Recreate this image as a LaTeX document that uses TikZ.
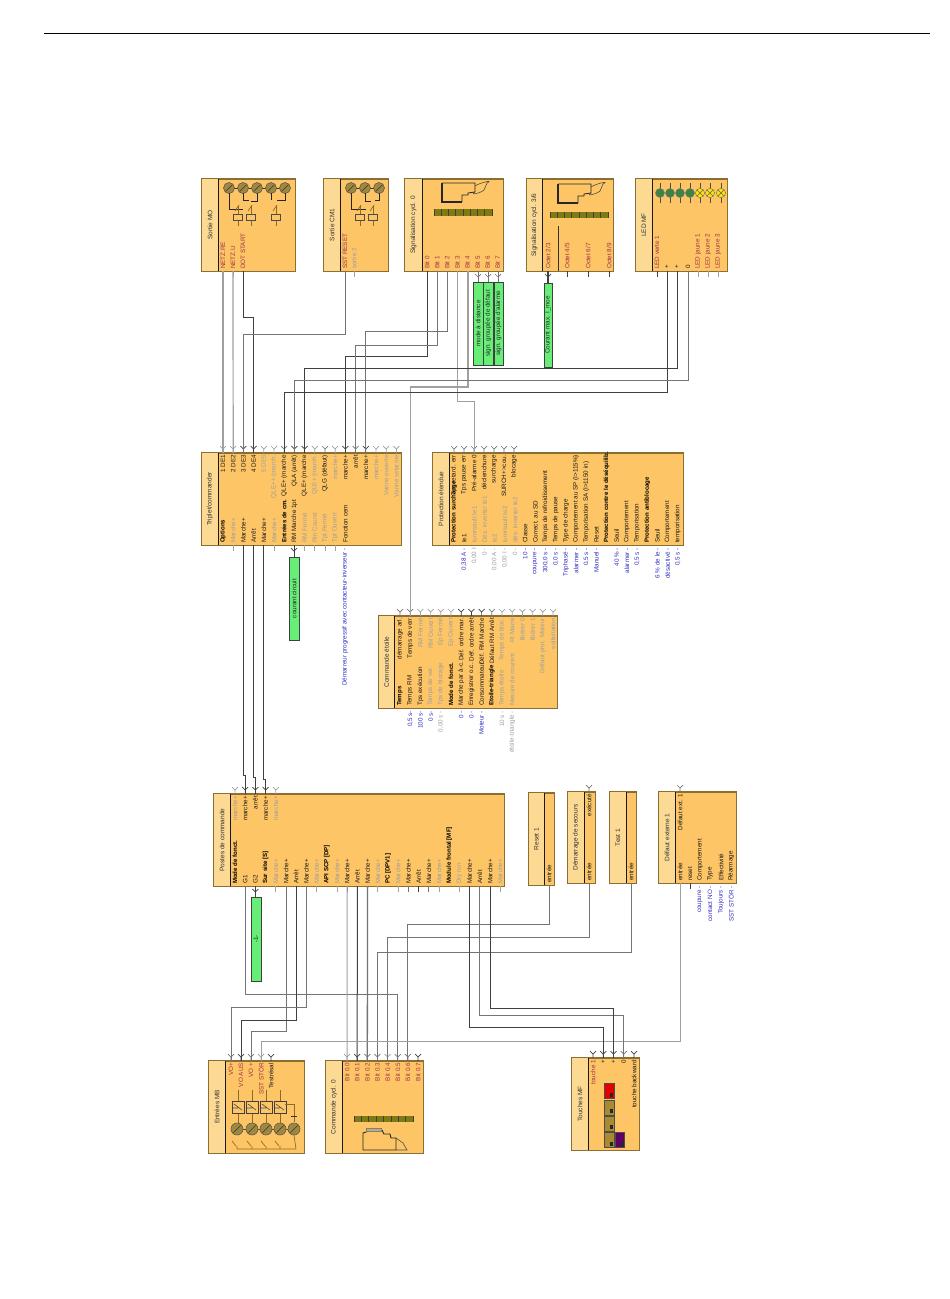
\documentclass[tikz,border=0pt]{standalone}
\usepackage{fontspec}
\setmainfont{Liberation Sans}
\definecolor{bodyc}{HTML}{FDC566}
\definecolor{titlec}{HTML}{FDDA94}
\definecolor{edgec}{HTML}{8C6E32}
\definecolor{greenc}{HTML}{66EE77}
\definecolor{oliv}{HTML}{A88A30}
\definecolor{barc}{HTML}{7F7A12}
\definecolor{redl}{HTML}{A03048}
\definecolor{bluel}{HTML}{3030C0}
\definecolor{wd}{HTML}{404040}
\definecolor{wm}{HTML}{747474}
\definecolor{wl}{HTML}{A0A0A0}
\tikzset{
  x=1pt,y=-1pt,
  blockbody/.style={draw=edgec,fill=bodyc,line width=1pt,inner sep=0pt},
  titleband/.style={fill=titlec},
  divider/.style={draw=black!90,line width=1pt},
  titletext/.style={font=\fontsize{6.5}{7}\selectfont,text=black!80,rotate=90,inner sep=0pt},
  lbl/.style={font=\fontsize{6.3}{7}\selectfont,inner sep=0pt,rotate=90},
  lnm/.style={text=black!90},
  lhd/.style={text=black,font=\fontsize{6.1}{7}\selectfont\bfseries},
  lgr/.style={text=black!38},
  lrd/.style={text=redl},
  lbu/.style={text=bluel},
  wire/.style={line width=1pt},
  wdark/.style={wire,draw=wd},
  wmid/.style={wire,draw=wm},
  wlight/.style={wire,draw=wl},
  gbox/.style={draw=black!75,fill=greenc,line width=1pt,inner sep=0pt},
  gtext/.style={font=\fontsize{6.3}{7}\selectfont,text=black!85,rotate=90,inner sep=0pt},
  iconl/.style={draw=oliv!80!black,line width=0.7pt}
}
\newcount\lblc
\newcommand\labw[4]{\global\advance\lblc by 1\tikzset{cur/.style/.expanded={#1}}%
  \node[lbl,cur,anchor=west] (L\the\lblc) at (#2,#3) {#4};}
\newcommand\labe[4]{\global\advance\lblc by 1\tikzset{cur/.style/.expanded={#1}}%
  \node[lbl,cur,anchor=east] (L\the\lblc) at (#2,#3) {#4};}
\newcommand\blockn[7]{%
  \node[blockbody,minimum width={(#4-#2)*1pt},minimum height={(#5-#3)*1pt}] (#1) at ({(#2+#4)/2},{(#3+#5)/2}) {};
  \fill[titleband] (#2,#3) rectangle (#6,#5);
  \draw[draw=edgec,line width=1pt] (#1.north west) rectangle (#1.south east);
  \draw[divider] (#6,#3) -- (#6,#5);
  \node[titletext] (#1t) at ({(#2+#6)/2},{(#3+#5)/2}) {#7};}
% top Y port
\newcommand\pty[4]{\coordinate (#1) at (#2,#3);
  \draw[wire,draw=#4,line width=0.7pt] (#1) -- ++(0,-4) ++(-3,-3) -- ++(3,3) -- ++(3,-3);}
% bottom stub
\newcommand\pts[4]{\coordinate (#1) at (#2,#3);
  \draw[wire,draw=#4,line width=0.9pt] (#1) -- ++(0,6);}
% bottom port with Y to green box
\newcommand\ptg[4]{\coordinate (#1) at (#2,#3);
  \draw[wire,draw=#4,line width=0.7pt] (#1) ++(-3,3) -- ++(3,3) -- ++(3,-3);}
\newcommand\gb[6]{\node[gbox,minimum width={(#4-#2)*1pt},minimum height={(#5-#3)*1pt}] (#1) at ({(#2+#4)/2},{(#3+#5)/2}) {};
  \node[gtext] (#1t) at ({(#2+#4)/2},{(#3+#5)/2}) {#6};}
\newcommand\coil[3]{\fill[oliv] (#1,#2) circle (#3);
  \draw[black!65,line width=0.6pt] (#1,#2) circle (#3);
  \draw[black!75,line width=0.7pt] (#1,#2) ++(-#3*0.6,#3*0.6) -- ++(#3*1.2,-#3*1.2);
  \draw[black!50,line width=0.6pt] (#1,#2) ++(-#3*0.7,#3*0.1) -- ++(#3*0.8,-#3*0.8);
  \draw[black!50,line width=0.6pt] (#1,#2) ++(-#3*0.1,#3*0.7) -- ++(#3*0.8,-#3*0.8);}
\newcommand\relay[2]{\draw[iconl] (#1,{#2-11}) -- (#1,{#2+9});
  \draw[black!70,fill=bodyc,line width=0.6pt] ({#1-4.5},{#2-3}) rectangle ({#1+4.5},{#2+3});
  \draw[iconl] ({#1-3},{#2-6}) -- ({#1+1},{#2-12});}
\newcommand\ledbar[4]{% x0 y0 x1 y1
  \fill[barc] (#1,#2) rectangle (#3,#4);
  \foreach \k in {0,...,8}{\pgfmathsetmacro\xk{#1+(#3-#1)*\k/8}
    \draw[black!75,line width=0.7pt] (\xk,#2) -- (\xk,#4);}}
\newcommand\cpu[2]{% origin x y : CPU outline, drawn with arm to the right
  \draw[black!85,line width=0.8pt] (#1,#2) -- ++(33,0) -- ++(0,9) -- ++(-7,1) -- ++(0,2) -- ++(-6,0) -- ++(0,7);
  \draw[black!85,line width=1.1pt] (#1,#2) -- ++(0,19) -- ++(20,0);
  \draw[black!70,line width=0.6pt] (#1,#2) ++(33,3) .. controls ++(4,-3) and ++(8,-4) .. ++(12,-3) -- ++(-3,7) .. controls ++(-3,3) and ++(-6,4) .. ++(-9,2);}
\begin{document}
\begin{tikzpicture}
\useasboundingbox (0,0) rectangle (950,1299);
\fill[white] (0,0) rectangle (950,1299);
\coordinate (ruleL) at (44,33); \coordinate (ruleR) at (930,33);
\draw[black,line width=0.8pt] (ruleL) -- (ruleR);

% ---- blocks ----
\blockn{mo}{202}{179}{295}{271}{218}{Sortie MO}
\blockn{cm}{324}{179}{388}{271}{340}{Sortie CM1}
\blockn{sa}{405}{179}{503}{271}{422}{Signalisation cycl. 0}
\blockn{sb}{527}{179}{613}{271}{542}{Signalisation cycl. 3/6}
\blockn{led}{636}{179}{727}{271}{652}{LED MF}
\blockn{tr}{202}{453}{401}{545}{218}{Triplet/commander}
\blockn{pr}{433}{453}{683}{545}{449}{Protection étendue}
\blockn{ce}{379}{616}{557}{708}{394}{Commande étoile}
\blockn{po}{214}{794}{504}{886}{230}{Postes de commande}
\blockn{re}{529}{793}{554}{885}{544}{Reset 1}
\blockn{de}{568}{792}{595}{883}{584}{Démarrage de secours}
\blockn{te}{610}{792}{636}{883}{626}{Test 1}
\blockn{df}{659}{792}{736}{883}{675}{Défaut externe 1}
\blockn{en}{209}{1061}{304}{1153}{225}{Entrées MB}
\blockn{kc}{326}{1061}{423}{1153}{342}{Commande cycl. 0}
\blockn{tm}{572}{1058}{639}{1150}{588}{Touches MF}

% ---- icons: Sortie MO ----
\draw[black!80,line width=0.8pt] (229,188) -- (285,188);
\foreach \cx in {229,243,257,271,285}{\coil{\cx}{188}{5.5}}
\draw[black!85,line width=0.9pt] (229,193) -- (229,209) -- (243,209);
\draw[black!85,line width=0.9pt] (243,193) -- (243,200) -- (249,200);
\draw[black!85,line width=0.9pt] (257,193) -- (257,201) -- (251,201);
\draw[black!85,line width=0.9pt] (271,193) -- (271,200);
\draw[black!85,line width=0.9pt] (285,193) -- (285,200) -- (277,200);
\relay{238}{217}\relay{251}{217}\relay{276}{217}
% Sortie CM1
\draw[black!80,line width=0.8pt] (351,188) -- (379,188);
\foreach \cx in {351,365,379}{\coil{\cx}{188}{5.5}}
\draw[black!85,line width=0.9pt] (351,193) -- (351,209) -- (366,209);
\draw[black!85,line width=0.9pt] (365,193) -- (365,201) -- (371,201);
\draw[black!85,line width=0.9pt] (379,193) -- (379,200) -- (375,200);
\relay{360}{217}\relay{373}{217}
% Signalisation 0
\cpu{442}{183}
\ledbar{434}{209}{492}{216}
% Signalisation 3/6
\cpu{558}{184}
\ledbar{550}{212}{608}{218}
\draw[black!80,line width=0.9pt] (558,226) -- (558,271);
% LED MF
\foreach \cx in {660,670,680,690}{
  \draw[black!70,line width=0.7pt] (\cx,183) -- (\cx,203);
  \fill[green!35!black!75] (\cx,193) circle (4.6);
  \draw[black!50,line width=0.4pt] (\cx,193) circle (4.6);}
\foreach \cx in {700,710,721}{
  \draw[black!70,line width=0.7pt] (\cx,183) -- (\cx,203);
  \fill[yellow!85!orange] (\cx,193) circle (4.6);
  \draw[black!60,line width=0.4pt] (\cx,193) circle (4.6);
  \draw[black!60,line width=0.5pt] (\cx,193) ++(-3,-3) -- ++(6,6) ++(0,-6) -- ++(-6,6);}
% Entrées MB
\foreach \cx in {238,252,266,280}{
  \draw[iconl] (\cx,1090) -- (\cx,1130);
  \draw[black!75,fill=bodyc,line width=0.8pt] ({\cx-6},1101) rectangle ({\cx+6},1113);
  \draw[black!70,line width=0.6pt] ({\cx-4},1104) -- ({\cx+4},1110) ({\cx-5},1108) -- (\cx,1108);}
\draw[black!70,line width=0.7pt] (232,1129) -- (294,1129);
\foreach \cx in {237,252,266,280,294}{\coil{\cx}{1129}{6}}
\draw[iconl] (285,1104) -- (294,1104) -- (294,1122);
\draw[black!80,line width=1pt] (291,1116) -- (297,1116);
\draw[iconl] (237,1149) -- (296,1149) (296,1149) -- (294,1135);
\foreach \cx in {237,252,266,280}{\draw[iconl] (\cx,1149) -- (\cx,1146) ++(-1,0) -- ++(-4,-5);}
% Commande cycl. 0
\ledbar{354}{1116}{413}{1122}
\draw[black!85,line width=0.9pt] (363,1150) -- (396,1150) (363,1150) -- (363,1133) -- (372,1130) -- (382,1130) -- (384,1134) -- (390,1134) -- (391,1138) -- (396,1138) -- (396,1150);
\draw[black!50,fill=oliv!70,line width=0.4pt] (366,1128) rectangle (381,1131);
\draw[black!70,line width=0.6pt] (396,1138) -- (403,1143) -- (407,1150) -- (396,1150);
% Touches MF
\fill[red!90!black] (604,1083) rectangle (614,1098);
\foreach \yy in {1100,1116,1132}{\fill[oliv] (604,\yy) rectangle (614,{\yy+15});}
\fill[violet!75!black] (615,1132) rectangle (624,1147);
\draw[black!70,line width=0.5pt] (604,1083) rectangle (614,1098) (604,1100) rectangle (614,1115) (604,1116) rectangle (614,1131) (604,1132) rectangle (614,1147) (615,1132) rectangle (624,1147);
\foreach \yy/\xq in {1095/610,1111/610,1127/610,1144/610,1144/621}{\fill[black!85] (\xq,{\yy-2}) rectangle ({\xq+3},{\yy+1.5});}

% ---- labels Sorties ----
\labw{lrd}{223}{269}{NETZ.RE}\labw{lrd}{233}{269}{NETZ.U}\labw{lrd}{243}{269}{DOT START}
\labw{lrd}{345}{269}{SST RESET}\labw{lgr}{354}{269}{sortie 2}
\foreach \i in {0,...,7}{\pgfmathsetmacro\xx{427+10.1*\i}\labw{lrd}{\xx}{269}{Bit \i}}
\labw{lrd}{548}{269}{Octet 2/3}\labw{lrd}{567}{269}{Octet 4/5}\labw{lrd}{588}{269}{Octet 6/7}\labw{lrd}{609}{269}{Octet 8/9}
\labw{lrd}{657}{269}{LED verte 1}\labw{lnm}{667}{269}{+}\labw{lnm}{677}{269}{+}\labw{lnm}{688}{269}{0}
\labw{lrd}{698}{269}{LED jaune 1}\labw{lrd}{708}{269}{LED jaune 2}\labw{lrd}{718}{269}{LED jaune 3}

% ports of output blocks
\pts{MO0}{223}{271}{wl}\pts{MO1}{233}{271}{wl}\pts{MO2}{243}{271}{wd}
\pts{CM0}{345}{271}{wm}\pts{CM1}{354}{271}{wl}
\pts{S0}{427}{271}{wd}\pts{S1}{437}{271}{wm}\pts{S2}{447}{271}{wd}\pts{S3}{457}{271}{wl}\pts{S4}{468}{271}{wl}
\ptg{S5}{478}{271}{wm}\ptg{S6}{488}{271}{wm}\ptg{S7}{498}{271}{wm}
\ptg{O0}{548}{271}{wd}\pts{O1}{567}{271}{wd}\pts{O2}{588}{271}{wd}\pts{O3}{609}{271}{wd}
\pts{Q0}{657}{271}{wd}\pts{Q1}{667}{271}{wd}\pts{Q2}{677}{271}{wd}\pts{Q3}{688}{271}{wl}
\pts{Q4}{698}{271}{wl}\pts{Q5}{708}{271}{wl}\pts{Q6}{718}{271}{wl}

% green boxes
\gb{g5}{473}{282}{483}{365}{mode à distance}
\gb{g6}{483.5}{282}{493}{365}{sign. groupée de défaut}
\gb{g7}{494}{282}{503}{365}{sign. groupée d'alarme}
\gb{g8}{544}{283}{552}{367}{Courant max. I\_moe}
\gb{g9}{289}{557}{299}{640}{courant circuit}
\gb{g10}{251}{897}{261}{981}{-1-}

% ---- Triplet ----
\foreach \i/\t/\s in {0/{1 DE1}/lnm,1/{2 DE2}/lnm,2/{3 DE3}/lnm,3/{4 DE4}/lnm,4/{5 DE5}/lgr,5/{QLE++ (march.}/lgr,6/{QLE+ (marche}/lnm,7/{QLA (arrêt)}/lnm,8/{QLE+ (marche}/lnm,9/{QLE+ (march.}/lgr,10/{QLG (défaut)}/lnm,11/{marche+}/lgr,12/{marche+}/lnm,13/{arrêt}/lnm,14/{marche+}/lnm,15/{marche+}/lgr,16/{Vanne ouverte}/lgr,17/{Vanne selarme}/lgr}{
  \pgfmathsetmacro\xx{223+10.2*\i}\labe{\s}{\xx}{455}{\t}}
\foreach \i/\c in {0/wl,1/wl,2/wd,3/wd,4/wl,5/wl,6/wm,7/wd,8/wd,9/wl,10/wm,11/wl,12/wd,13/wm,14/wd,15/wl,16/wl,17/wl}{
  \pgfmathsetmacro\xx{223+10.2*\i}\pty{T\i}{\xx}{453}{\c}}
\foreach \i/\t/\s in {0/Options/lhd,1/{Marche+}/lgr,2/{Marche+}/lnm,3/Arrêt/lnm,4/{Marche+}/lnm,5/{Marche+}/lgr,6/{Entrées de cm.}/lhd,7/{RM Marche 1pt}/lnm,8/{RM Fermé}/lgr,9/{Rm Couret}/lgr,10/{Tpt Fermé}/lgr,11/{Tpt Ouvert}/lgr,12/{Fonction cem}/lnm}{
  \pgfmathsetmacro\xx{223+10.2*\i}\labw{\s}{\xx}{543}{\t}}
\foreach \i/\c in {1/wl,2/wd,3/wd,4/wd,5/wl,8/wl,9/wl,10/wl,11/wl}{
  \pgfmathsetmacro\xx{223+10.2*\i}\pts{TB\i}{\xx}{545}{\c}}
\ptg{TB7}{294}{545}{wd}
\coordinate (TB12) at (345,545);
\labe{lbu}{345}{548}{Démarreur progressif avec contacteur-inverseur -}

% ---- Protection ----
\foreach \i/\t/\s in {0/{Tps retard. err}/lnm,1/{Tps pause err}/lnm,2/{Pré-alarme 0}/lnm,3/{déclenchure}/lnm,4/{surcharge}/lnm,5/{SURCH+>cou.}/lnm,6/{blocage}/lnm}{
  \pgfmathsetmacro\xx{454+10*\i}\labe{\s}{\xx}{455}{\t}}
\foreach \i/\c in {0/wm,1/wm,2/wm,3/wm,4/wm,5/wm,6/wm}{
  \pgfmathsetmacro\xx{454+10*\i}\pty{P\i}{\xx}{453}{\c}}
\foreach \i/\t/\s in {0/{Protection surcharge}/lhd,1/Ie1/lnm,2/{Iumrsault Ie1}/lgr,3/{Dés. inverter Ie1}/lgr,4/Ie2/lgr,5/{Iumrsault Ie2}/lgr,6/{dés. inverter Ie2}/lgr,7/Classe/lnm,8/{Correct. au SD}/lnm,9/{Temps de refroidissement}/lnm,10/{Temps de pause}/lnm,11/{Type de charge}/lnm,12/{Comportement au SP (I>115\%)}/lnm,13/{Temporisation SA (I>1150 in)}/lnm,14/Reset/lnm,15/{Protection contre le déséquilib.}/lhd,16/Seuil/lnm,17/Comportement/lnm,18/Temporisation/lnm,19/{Protection antiblocage}/lhd,20/Seuil/lnm,21/Comportement/lnm,22/temporisation/lnm}{
  \pgfmathsetmacro\xx{454+10.17*\i}\labw{\s}{\xx}{543}{\t}}
\foreach \i/\t/\s in {1/{0,38 A -}/lbu,2/{0,00 I}/lgr,3/{0 -}/lgr,4/{0,00 A -}/lgr,5/{0,00 I -}/lgr,6/{0 -}/lgr,7/{10 -}/lbu,8/{coupure -}/lbu,9/{300,0 s -}/lbu,10/{0,0 s -}/lbu,11/{Triphasé -}/lbu,12/{alarmer -}/lbu,13/{0,5 s -}/lbu,14/{Manuel -}/lbu,16/{40 \% -}/lbu,17/{alarmer -}/lbu,18/{0,5 s -}/lbu,20/{6 \% de le -}/lbu,21/{désactivé -}/lbu,22/{0,5 s -}/lbu}{
  \pgfmathsetmacro\xx{454+10.17*\i}\labe{\s}{\xx}{548}{\t}}

% ---- Commande étoile ----
\foreach \i/\t/\s in {0/{démarrage arl.}/lnm,1/{Temps de verr}/lnm,2/{RM Fermé}/lgr,3/{RM Ouvert}/lgr,4/{Ep Fermé}/lgr,5/{Ep Ouvert}/lgr,6/{Déf. ordre mar.}/lnm,7/{Déf. ordre arrêt}/lnm,8/{Déf. RM Marche}/lnm,9/{Défaut RM Arrêt}/lnm,10/{Temps de bloc.}/lgr,11/{RI Marre}/lgr,12/{libérer 0}/lgr,13/{libérer 1}/lgr,14/{Défaut prot. Moteur}/lgr,15/{sollicitation}/lgr}{
  \pgfmathsetmacro\xx{400+10.2*\i}\labe{\s}{\xx}{618}{\t}}
\foreach \i/\c in {0/wm,1/wm,2/wl,3/wl,4/wl,5/wl,6/wd,7/wd,8/wd,9/wm,10/wl,11/wl,12/wl,13/wl,14/wl,15/wl}{
  \pgfmathsetmacro\xx{400+10.2*\i}\pty{C\i}{\xx}{616}{\c}}
\foreach \i/\t/\s in {0/Temps/lhd,1/{Temps RM}/lnm,2/{Tps exécution}/lnm,3/{Temps de ver.}/lgr,4/{Tps de blocage}/lgr,5/{Mode de fonct.}/lhd,6/{Marche par à-c.}/lnm,7/{Enregistrer o.c.}/lnm,8/Consommateur/lnm,9/{Etoile-triangle}/lhd,10/{Temps étoile}/lgr,11/{Mesure de courant}/lgr}{
  \pgfmathsetmacro\xx{400+10.2*\i}\labw{\s}{\xx}{706}{\t}}
\foreach \i/\t/\s in {1/{0,5 s-}/lbu,2/{100 s-}/lbu,3/{0 s-}/lbu,4/{0,00 s -}/lgr,6/{0 -}/lbu,7/{0 -}/lbu,8/{Moteur -}/lbu,10/{10 s -}/lgr,11/{étoile-triangle -}/lgr}{
  \pgfmathsetmacro\xx{400+10.2*\i}\labe{\s}{\xx}{711}{\t}}

% ---- Postes de commande ----
\foreach \i/\t/\s/\c in {0/{marche+}/lgr/wl,1/{marche+}/lnm/wd,2/{arrêt}/lnm/wd,3/{marche+}/lnm/wd,4/{marche+}/lgr/wl}{
  \pgfmathsetmacro\xx{235+10.2*\i}\labe{\s}{\xx}{796}{\t}\pty{PT\i}{\xx}{794}{\c}}
\foreach \i/\t/\s in {0/{Mode de fonct.}/lhd,1/G1/lnm,2/G2/lnm,3/{Sur site [S]}/lhd,4/{Marche+}/lgr,5/{Marche+}/lnm,6/Arrêt/lnm,7/{Marche+}/lnm,8/{Marche+}/lgr,9/{API SCP [DP]}/lhd,10/{Marche+}/lgr,11/{Marche+}/lnm,12/Arrêt/lnm,13/{Marche+}/lnm,14/{Marche+}/lgr,15/{PC [DPV1]}/lhd,16/{Marche+}/lgr,17/{Marche+}/lnm,18/Arrêt/lnm,19/{Marche+}/lnm,20/{Marche+}/lgr,21/{Module frontal [MF]}/lhd,22/{Dry run}/lgr,23/{Marche+}/lnm,24/Arrêt/lnm,25/{Marche+}/lnm,26/{Marche+}/lgr}{
  \pgfmathsetmacro\xx{235+10.2*\i}\labw{\s}{\xx}{884}{\t}}
\foreach \i/\c in {1/wd,4/wl,5/wm,6/wd,7/wm,8/wl,10/wl,11/wm,12/wd,13/wm,14/wl,16/wl,17/wm,18/wd,19/wm,20/wl,22/wl,23/wm,24/wm,25/wd,26/wl}{
  \pgfmathsetmacro\xx{235+10.2*\i}\pts{PB\i}{\xx}{886}{\c}}
\ptg{PB2}{255.4}{886}{wd}

% ---- small blocks ----
\labw{lnm}{549}{883}{entrée}\pts{R0}{549}{885}{wl}
\labw{lnm}{589}{881}{entrée}\pts{D0}{589}{883}{wm}
\labe{lnm}{589}{794}{exécuté}\pty{D1}{589}{792}{wm}
\labw{lnm}{631}{881}{entrée}\pts{Te0}{631}{883}{wm}
\labw{lnm}{680}{881}{entrée}\pts{F0}{680}{883}{wl}
\labe{lnm}{680}{794}{Défaut ext. 1}\pty{F1}{680}{792}{wm}
\labw{lnm}{690}{881}{reset}\pts{F2}{690}{883}{wd}
\labw{lnm}{700}{881}{Comportement}\labw{lnm}{710}{881}{Type}\labw{lnm}{721}{881}{Effectivité}\labw{lnm}{731}{881}{Réarmage}
\labe{lbu}{700}{886}{coupure -}\labe{lbu}{710}{886}{contact NO -}\labe{lbu}{721}{886}{Toujours -}\labe{lbu}{731}{886}{SST STÖR -}

% ---- Entrées MB ----
\foreach \i/\t/\s/\c in {0/{VO+}/lrd/wm,1/{VO AUS}/lrd/wd,2/{VO +}/lrd/wm,3/{SST STÖR}/lrd/wl,4/{Testrésal}/lnm/wd}{
  \pgfmathsetmacro\xx{231+10*\i}\labe{\s}{\xx}{1063}{\t}\pty{E\i}{\xx}{1061}{\c}}
% ---- Commande cycl. 0 ----
\foreach \i/\c in {0/wl,1/wd,2/wm,3/wm,4/wl,5/wm,6/wm,7/wd}{
  \pgfmathsetmacro\xx{347+10.15*\i}\labe{lrd}{\xx}{1063}{Bit 0.\i}\pty{K\i}{\xx}{1061}{\c}}
% ---- Touches MF ----
\foreach \i/\t/\s/\c in {0/{touche 1}/lrd/wd,1/{+}/lnm/wd,2/{+}/lnm/wd,3/{0}/lnm/wm,4/{touche backward}/lnm/wd}{
  \pgfmathsetmacro\xx{593+10.25*\i}\labe{\s}{\xx}{1060}{\t}\pty{M\i}{\xx}{1058}{\c}}

% ---- wires upper ----
\draw[wlight,line width=1.2pt] (MO0) -- (T0);
\draw[wlight,line width=1.2pt] (MO1) -- (T1);
\draw[wdark] (MO2) -- ++(0,46) -| (T3);
\draw[wmid] (CM0) -- ++(0,63) -| (T2);
\draw[wdark] (S0) -- ++(0,85) -| (T12);
\draw[wmid] (S1) -- ++(0,74) -| (T13);
\draw[wmid] (S2) -- ++(0,60) -| (T14);
\draw[wlight] (S3) -- ++(0,130) -| (P2);
\draw[wlight,line width=1.3pt] (S4) -- ++(0,116) -| (C1);
\draw[wdark] (Q1) -- ++(0,121) -| (T6);
\draw[wdark] (Q2) -- ++(0,97) -| (T8);
\draw[wmid] (Q3) -- ++(0,109) -| (T7);
% green-box stubs
\draw[wmid] (S5) -- (S5 |- g5.north);
\draw[wmid] (S6) -- (S6 |- g6.north);
\draw[wmid] (S7) -- (S7 |- g7.north);
\draw[wdark,line width=1.2pt] (O0) -- (O0 |- g8.north);
\draw[wdark] (TB7) -- (TB7 |- g9.north);
\draw[wdark] (PB2) -- (PB2 |- g10.north);
% ---- wires middle ----
\draw[wdark] (TB2) -- ++(0,230) -| (PT1);
\draw[wdark] (TB3) -- ++(0,232) -| (PT2);
\draw[wdark] (TB4) -- ++(0,234) -| (PT3);
% ---- wires lower ----
\draw[wmid] (PB1) -- ++(0,108) -| (K5);
\draw[wmid] (PB5) -- ++(0,145) -| (E2);
\draw[wdark] (PB6) -- ++(0,134) -| (E1);
\draw[wmid] (PB7) -- ++(0,121) -| (E0);
\draw[wlight] (PB11) -- (K0);
\draw[wdark] (PB12) -- (K1);
\draw[wmid,line width=1.3pt] (PB13) -- (K2);
\draw[wmid] (R0) -- ++(0,39) -| (K6);
\draw[wmid] (D0) -- ++(0,54) -| (K4);
\draw[wmid] (Te0) -- ++(0,69) -| (K3);
\draw[wlight] (F0) -- ++(0,158) -| (E3);
\draw[wdark] (PB23) -- ++(0,141) -| (M1);
\draw[wmid] (PB24) -- ++(0,129) -| (M3);
\draw[wdark] (PB25) -- ++(0,122) -| (M2);
\end{tikzpicture}
\end{document}
